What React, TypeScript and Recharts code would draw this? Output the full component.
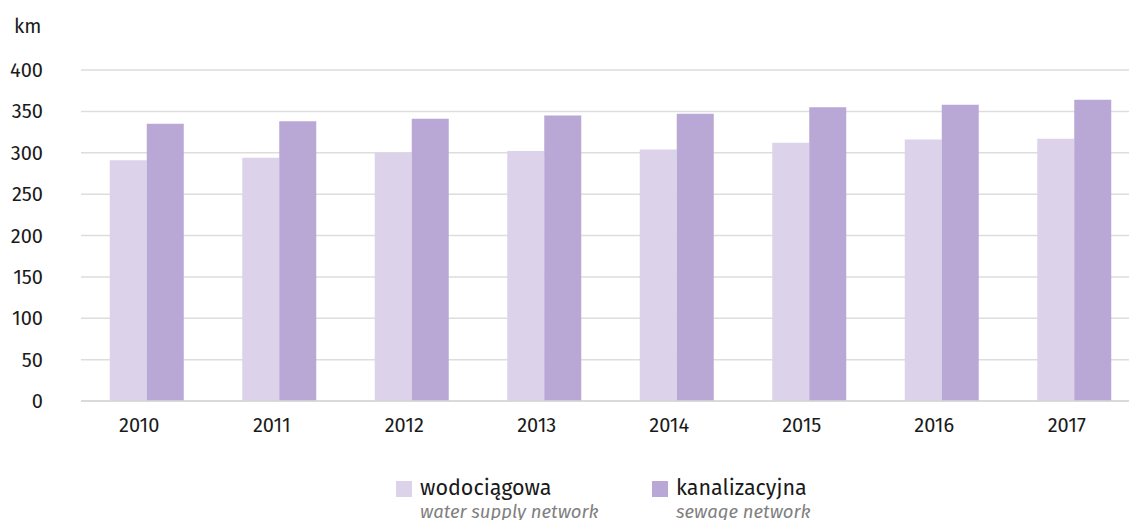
import React from 'react';
import { BarChart, Bar, XAxis, YAxis, CartesianGrid } from 'recharts';

const YEARS = ['2010', '2011', '2012', '2013', '2014', '2015', '2016', '2017'];
const WATER = [291, 294, 300, 302, 304, 312, 316, 317];
const SEWAGE = [335, 338, 341, 345, 347, 355, 358, 364];
const Y_TICKS = [0, 50, 100, 150, 200, 250, 300, 350, 400];

const LIGHT = '#dcd3ea';
const DARK = '#b9a7d5';
const FONT = '"Fira Sans", "Open Sans", "Noto Sans", sans-serif';

const data = YEARS.map((year, i) => ({ year, water: WATER[i], sewage: SEWAGE[i] }));

const LegendItem = ({ color, label, sub, left }: { color: string; label: string; sub: string; left: number }) => (
  <div style={{ position: 'absolute', left, top: 474, fontFamily: FONT }}>
    <div style={{ position: 'absolute', left: 0, top: 7, width: 16, height: 16, background: color }} />
    <div style={{ position: 'absolute', left: 24, top: 0, fontSize: 21.5, lineHeight: '28px', color: '#1a1a1a', whiteSpace: 'nowrap' }}>{label}</div>
    <div style={{ position: 'absolute', left: 24, top: 26, fontSize: 18.5, lineHeight: '24px', fontStyle: 'italic', color: '#808080', whiteSpace: 'nowrap' }}>{sub}</div>
  </div>
);

const App: React.FC = () => {
  return (
    <div style={{ position: 'relative', width: 1129, height: 520, overflow: 'hidden', background: '#fff' }}>
      <style>{`body { margin: 0; }`}</style>
      <div style={{ position: 'absolute', left: 14, top: 14, fontSize: 20, fontFamily: FONT, color: '#1a1a1a' }}>km</div>
      <div style={{ position: 'absolute', left: 0, top: 0 }}>
        <BarChart
          width={1141}
          height={520}
          data={data}
          margin={{ top: 70, right: 0, bottom: 89, left: 0 }}
          barCategoryGap="21.7%"
          barGap={0}
        >
          <CartesianGrid vertical={false} stroke="#dddddd" strokeWidth={1.5} />
          <XAxis
            dataKey="year"
            height={30}
            tickLine={false}
            axisLine={{ stroke: '#d6d6d6', strokeWidth: 1.5 }}
            tickMargin={11}
            tick={{ fontSize: 20, fill: '#1a1a1a', fontFamily: FONT, dx: -8 }}
          />
          <YAxis
            width={81}
            domain={[0, 400]}
            ticks={Y_TICKS}
            tickLine={false}
            tickSize={0}
            axisLine={false}
            tickMargin={38}
            tick={{ fontSize: 20, fill: '#1a1a1a', fontFamily: FONT }}
          />
          <Bar dataKey="water" fill={LIGHT} isAnimationActive={false} />
          <Bar dataKey="sewage" fill={DARK} isAnimationActive={false} />
        </BarChart>
      </div>
      <LegendItem color={LIGHT} label="wodociągowa" sub="water supply network" left={396} />
      <LegendItem color={DARK} label="kanalizacyjna" sub="sewage network" left={652} />
    </div>
  );
};

export default App;
